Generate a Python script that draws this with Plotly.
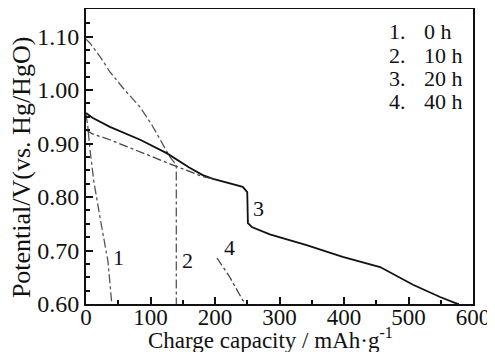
import plotly.graph_objects as go

# Curve 1: 0 h
c1_x = [0, 3, 6, 12, 22, 30, 34, 37, 40]
c1_y = [0.955, 0.93, 0.89, 0.83, 0.76, 0.71, 0.68, 0.64, 0.60]
# Curve 2: 10 h
c2_x = [0, 6, 22, 37, 60, 84, 102, 115, 130, 140, 140]
c2_y = [1.095, 1.088, 1.062, 1.034, 1.0, 0.968, 0.935, 0.906, 0.875, 0.86, 0.60]
# Curve 3: 20 h
c3_x = [0, 10, 37, 84, 125, 160, 181, 197, 243, 250, 251, 257, 285, 342, 398, 456, 507, 549, 572, 578]
c3_y = [0.957, 0.948, 0.931, 0.907, 0.882, 0.855, 0.841, 0.834, 0.819, 0.809, 0.751, 0.744, 0.73, 0.71, 0.688, 0.669, 0.636, 0.613, 0.602, 0.60]
# Curve 4: 40 h (upper part, gap, lower part)
c4_x = [0, 10, 37, 84, 130, 181, 200, None, 203, 223, 243, 250]
c4_y = [0.925, 0.918, 0.907, 0.885, 0.862, 0.838, 0.833, None, 0.686, 0.65, 0.607, 0.60]

curve_labels = ["1", "2", "3", "4"]
label_x = [50, 158, 268, 223]
label_y = [0.686, 0.682, 0.779, 0.705]

legend_nums = ["1.", "2.", "3.", "4."]
legend_times = ["0 h", "10 h", "20 h", "40 h"]
legend_y = [1.110, 1.064, 1.021, 0.978]

x_ticks = [0, 100, 200, 300, 400, 500, 600]
y_ticks = [0.60, 0.70, 0.80, 0.90, 1.00, 1.10]

FONT = "Liberation Serif, Times New Roman, Times, serif"
BLACK = "#111"
fig = go.Figure()
fig.add_trace(go.Scatter(x=c1_x, y=c1_y, mode="lines",
                         line=dict(color="#555", width=1.3, dash="dashdot")))
fig.add_trace(go.Scatter(x=c2_x, y=c2_y, mode="lines", connectgaps=False,
                         line=dict(color="#555", width=1.3, dash="dashdot")))
fig.add_trace(go.Scatter(x=c3_x, y=c3_y, mode="lines",
                         line=dict(color=BLACK, width=1.8)))
fig.add_trace(go.Scatter(x=c4_x, y=c4_y, mode="lines", connectgaps=False,
                         line=dict(color="#444", width=1.3, dash="dashdot")))

for t, x, y in zip(curve_labels, label_x, label_y):
    fig.add_annotation(x=x, y=y, text=t, showarrow=False,
                       font=dict(family=FONT, size=22, color=BLACK))
for n, t, y in zip(legend_nums, legend_times, legend_y):
    fig.add_annotation(x=499, y=y, text=n, showarrow=False, xanchor="right",
                       font=dict(family=FONT, size=22, color=BLACK))
    fig.add_annotation(x=521, y=y, text=t, showarrow=False, xanchor="left",
                       font=dict(family=FONT, size=22, color=BLACK))

# axis titles as annotations for precise placement
fig.add_annotation(xref="paper", yref="paper", x=0.478, y=-0.062,
                   text="Charge capacity / mAh·g<sup>-1</sup>", showarrow=False,
                   xanchor="center", yanchor="top",
                   font=dict(family=FONT, size=23, color=BLACK))
fig.add_annotation(xref="paper", yref="paper", x=-0.168, y=0.464,
                   text="Potential/V(vs. Hg/HgO)", showarrow=False, textangle=-90,
                   xanchor="center", yanchor="middle",
                   font=dict(family=FONT, size=26, color=BLACK))

# page body has an 8px default margin, so the figure is 8px smaller
fig.update_layout(
    width=487, height=344,
    margin=dict(l=78, r=22, t=1, b=48),
    paper_bgcolor="white", plot_bgcolor="white",
    showlegend=False,
    font=dict(family=FONT, size=22, color=BLACK),
)
fig.update_xaxes(
    range=[0, 600], tickvals=x_ticks, ticktext=[str(v) for v in x_ticks],
    ticks="inside", ticklen=7, tickwidth=1.5, tickcolor=BLACK,
    minor=dict(ticks="inside", dtick=50, ticklen=4, tickwidth=1.5, tickcolor=BLACK),
    showline=True, linewidth=2, linecolor=BLACK, mirror=True,
    showgrid=False, zeroline=False, automargin=False,
    ticklabelstandoff=-9,
    tickfont=dict(family=FONT, size=23, color=BLACK),
)
fig.update_yaxes(
    range=[0.6, 1.1514], tickvals=y_ticks, ticktext=[f"{v:.2f}" for v in y_ticks],
    ticks="inside", ticklen=7, tickwidth=1.5, tickcolor=BLACK,
    minor=dict(ticks="inside", dtick=0.025, ticklen=4, tickwidth=1.5, tickcolor=BLACK),
    showline=True, linewidth=2, linecolor=BLACK, mirror=True,
    showgrid=False, zeroline=False, automargin=False,
    tickfont=dict(family=FONT, size=24, color=BLACK),
)
fig.write_html("out.html")
